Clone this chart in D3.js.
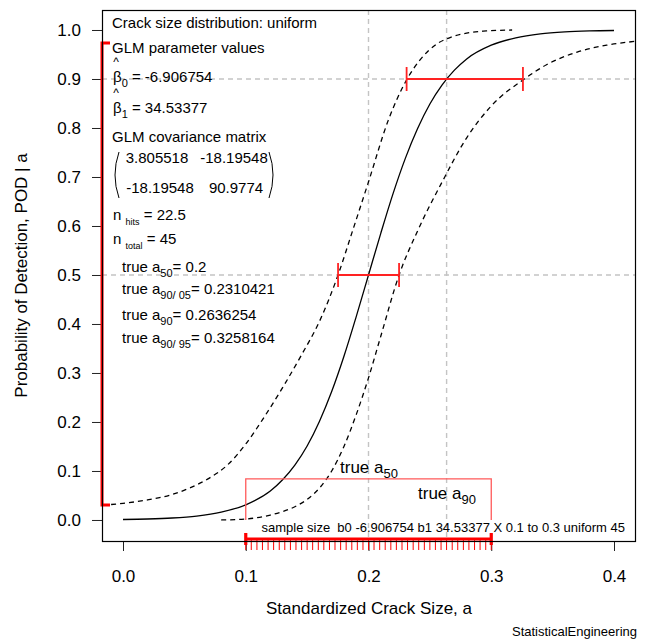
<!DOCTYPE html>
<html>
<head>
<meta charset="utf-8">
<script src="https://cdn.jsdelivr.net/npm/d3@7"></script>
<style>
body { margin: 0; background: #fff; }
text { font-family: "Liberation Sans", Arial, Helvetica, sans-serif; fill: #000; }
</style>
</head>
<body>
<div id="chart"></div>
<script>
// fitted POD curve (solid)
var podSize = [0, 0.02, 0.04, 0.06, 0.08, 0.10, 0.12, 0.13, 0.14, 0.15, 0.16, 0.17, 0.18, 0.19, 0.20,
    0.21, 0.22, 0.23, 0.24, 0.25, 0.26, 0.27, 0.28, 0.30, 0.32, 0.34, 0.36, 0.38, 0.40];
var podValue = [0.001, 0.002, 0.004, 0.008, 0.016, 0.031, 0.059, 0.082, 0.112, 0.151, 0.201, 0.262, 0.334, 0.415, 0.50,
    0.585, 0.666, 0.738, 0.799, 0.849, 0.888, 0.918, 0.941, 0.969, 0.984, 0.992, 0.996, 0.998, 0.999];

// upper confidence bound (left dashed)
var upperSize = [-0.017, 0.00, 0.02, 0.04, 0.055, 0.07, 0.085, 0.10, 0.115, 0.13, 0.145, 0.16, 0.1752,
    0.187, 0.20, 0.216, 0.231, 0.242, 0.256, 0.268, 0.283, 0.296, 0.317];
var upperValue = [0.030, 0.034, 0.041, 0.052, 0.066, 0.085, 0.112, 0.155, 0.21, 0.27, 0.335, 0.405, 0.50,
    0.59, 0.69, 0.815, 0.898, 0.939, 0.972, 0.986, 0.995, 0.998, 1.0];

// lower confidence bound (right dashed)
var lowerSize = [0.08, 0.10, 0.12, 0.13, 0.14, 0.15, 0.16, 0.17, 0.18, 0.19, 0.20, 0.21, 0.2249,
    0.24, 0.26, 0.28, 0.30, 0.327, 0.345, 0.37, 0.394, 0.418];
var lowerValue = [0.000, 0.002, 0.010, 0.017, 0.027, 0.042, 0.065, 0.100, 0.150, 0.215, 0.290, 0.375, 0.50,
    0.59, 0.69, 0.78, 0.845, 0.90, 0.929, 0.955, 0.969, 0.977];

// 45 crack sizes, uniform 0.1 to 0.3
var crackSizes = [0.1000, 0.1045, 0.1091, 0.1136, 0.1182, 0.1227, 0.1273, 0.1318, 0.1364, 0.1409,
    0.1455, 0.1500, 0.1545, 0.1591, 0.1636, 0.1682, 0.1727, 0.1773, 0.1818, 0.1864, 0.1909, 0.1955,
    0.2000, 0.2045, 0.2091, 0.2136, 0.2182, 0.2227, 0.2273, 0.2318, 0.2364, 0.2409, 0.2455, 0.2500,
    0.2545, 0.2591, 0.2636, 0.2682, 0.2727, 0.2773, 0.2818, 0.2864, 0.2909, 0.2955, 0.3000];

var refPod = [0.5, 0.9];
var refSize = [0.2, 0.2636254];
var ci50 = [0.1752, 0.2249];
var ci90 = [0.2310421, 0.3258164];
var podRange = [0.0306, 0.9735];
var sampleBox = [0.1, 0.3, 0.084];

var xTicks = [0, 0.1, 0.2, 0.3, 0.4];
var yTicks = [0, 0.1, 0.2, 0.3, 0.4, 0.5, 0.6, 0.7, 0.8, 0.9, 1.0];

var svgWidth = 646;
var svgHeight = 639;

var margin = { top: 10, right: 10, bottom: 98, left: 102 };
var width = svgWidth - margin.left - margin.right;
var height = svgHeight - margin.top - margin.bottom;

var svg = d3.select("#chart")
    .append("svg")
    .attr("width", svgWidth)
    .attr("height", svgHeight);

var chartGroup = svg.append("g")
    .attr("transform", `translate(${margin.left}, ${margin.top})`);

var xScale = d3.scaleLinear().domain([-0.01711, 0.41792]).range([0, width]);
var yScale = d3.scaleLinear().domain([-0.0429, 1.0408]).range([height, 0]);

svg.append("defs").append("clipPath").attr("id", "plotclip")
    .append("rect").attr("width", width).attr("height", height);

// axes
var xAxis = d3.axisBottom(xScale).tickValues(xTicks).tickFormat(d3.format(".1f"))
    .tickSize(10).tickPadding(19);
var yAxis = d3.axisLeft(yScale).tickValues(yTicks).tickFormat(d3.format(".1f"))
    .tickSize(10).tickPadding(11);

var gx = chartGroup.append("g").attr("transform", `translate(0, ${height})`).call(xAxis);
var gy = chartGroup.append("g").call(yAxis);
[gx, gy].forEach(function(g) {
    g.select(".domain").remove();
    g.selectAll("text").style("font-size", "17px")
        .style("font-family", "'Liberation Sans', Arial, sans-serif");
    g.selectAll("line").attr("stroke", "#222");
});

// reference lines
var plot = chartGroup.append("g").attr("clip-path", "url(#plotclip)");
plot.selectAll(".hRef").data(refPod).enter().append("line")
    .attr("x1", 0).attr("x2", width)
    .attr("y1", d => yScale(d)).attr("y2", d => yScale(d))
    .attr("stroke", "#c4c4c4").attr("stroke-width", 1.4).attr("stroke-dasharray", "5,4");
plot.selectAll(".vRef").data(refSize).enter().append("line")
    .attr("y1", 0).attr("y2", height)
    .attr("x1", d => xScale(d)).attr("x2", d => xScale(d))
    .attr("stroke", "#c4c4c4").attr("stroke-width", 1.4).attr("stroke-dasharray", "5,4");

// curves
var line = d3.line().x(d => xScale(d[0])).y(d => yScale(d[1]));
plot.append("path").datum(d3.zip(podSize, podValue))
    .attr("d", line.curve(d3.curveMonotoneX))
    .attr("fill", "none").attr("stroke", "#000").attr("stroke-width", 1.3);
plot.append("path").datum(d3.zip(upperSize, upperValue))
    .attr("d", line.curve(d3.curveMonotoneX))
    .attr("fill", "none").attr("stroke", "#000").attr("stroke-width", 1.3).attr("stroke-dasharray", "5,4");
plot.append("path").datum(d3.zip(lowerSize, lowerValue))
    .attr("d", line.curve(d3.curveMonotoneX))
    .attr("fill", "none").attr("stroke", "#000").attr("stroke-width", 1.3).attr("stroke-dasharray", "5,4");

// confidence intervals at POD 0.5 and 0.9
[[ci50, refPod[0]], [ci90, refPod[1]]].forEach(function(c) {
    var g = chartGroup.append("g").attr("stroke", "#f22").attr("stroke-width", 1.8);
    g.append("line").attr("x1", xScale(c[0][0])).attr("x2", xScale(c[0][1]))
        .attr("y1", yScale(c[1])).attr("y2", yScale(c[1]));
    c[0].forEach(function(a) {
        g.append("line").attr("x1", xScale(a)).attr("x2", xScale(a))
            .attr("y1", yScale(c[1]) - 12).attr("y2", yScale(c[1]) + 12);
    });
});

// sample size box
chartGroup.append("path")
    .attr("d", `M${xScale(sampleBox[0])},${yScale(0)} V${yScale(sampleBox[2])} H${xScale(sampleBox[1])} V${yScale(0)}`)
    .attr("fill", "none").attr("stroke", "#ff5a5a").attr("stroke-width", 1.3);

// POD range bracket on the left
var bx = 0;
chartGroup.append("path")
    .attr("d", `M${bx + 8},${yScale(podRange[1])} H${bx} V${yScale(podRange[0])} H${bx + 8}`)
    .attr("fill", "none").attr("stroke", "#f00").attr("stroke-width", 3);

// rug of crack sizes
chartGroup.selectAll(".rug").data(crackSizes).enter().append("line")
    .attr("x1", d => xScale(d)).attr("x2", d => xScale(d))
    .attr("y1", height - 2).attr("y2", height + 9)
    .attr("stroke", "#f00").attr("stroke-width", 1);
chartGroup.append("path")
    .attr("d", `M${xScale(sampleBox[0])},${height - 8} V${height + 4} M${xScale(sampleBox[0])},${height - 2} H${xScale(sampleBox[1])} M${xScale(sampleBox[1])},${height - 8} V${height + 4}`)
    .attr("fill", "none").attr("stroke", "#f00").attr("stroke-width", 3.2);

// frame
chartGroup.append("rect").attr("x", 0.5).attr("y", 0.5)
    .attr("width", width - 1).attr("height", height)
    .attr("fill", "none").attr("stroke", "#000").attr("stroke-width", 1.2);

// text helper: parts are [string, "sub" | undefined]
function mathText(x, y, parts, size, anchor) {
    var t = svg.append("text").attr("x", x).attr("y", y)
        .style("font-size", size + "px").style("white-space", "pre")
        .attr("text-anchor", anchor || "start");
    var shift = 0;
    parts.forEach(function(p) {
        var down = p[1] === "sub" ? Math.round(size * 0.3) : 0;
        t.append("tspan").text(p[0])
            .attr("dy", down - shift)
            .style("font-size", p[1] === "sub" ? (p[2] || Math.round(size * 0.72)) + "px" : null);
        shift = down;
    });
    return t;
}

var fs = 15;
mathText(112, 28, [["Crack size distribution: uniform"]], fs);
mathText(112, 53, [["GLM parameter values"]], fs);
svg.append("text").attr("x", 116).attr("y", 66).attr("text-anchor", "middle").style("font-size", "12px").text("^");
mathText(113, 82, [["\u03b2"], ["0", "sub"], [" = -6.906754"]], fs);
svg.append("text").attr("x", 116).attr("y", 97).attr("text-anchor", "middle").style("font-size", "12px").text("^");
mathText(113, 113, [["\u03b2"], ["1", "sub"], [" = 34.53377"]], fs);
mathText(112, 142, [["GLM covariance matrix"]], fs);

// covariance matrix
mathText(157, 163, [["3.805518"]], fs, "middle");
mathText(234, 163, [["-18.19548"]], fs, "middle");
mathText(160, 193, [["-18.19548"]], fs, "middle");
mathText(236, 193, [["90.9774"]], fs, "middle");
svg.append("path").attr("d", "M119,152 Q111,175 119,198 M269,152 Q277,175 269,198")
    .attr("fill", "none").attr("stroke", "#000").attr("stroke-width", 1);

mathText(113, 220, [["n "], ["hits", "sub", 9], [" = 22.5"]], fs);
mathText(113, 244, [["n "], ["total", "sub", 9], [" = 45"]], fs);
mathText(122, 272, [["true a"], ["50", "sub"], ["= 0.2"]], fs);
mathText(122, 294, [["true a"], ["90/ 05", "sub"], ["= 0.2310421"]], fs);
mathText(122, 320, [["true a"], ["90", "sub"], ["= 0.2636254"]], fs);
mathText(122, 343, [["true a"], ["90/ 95", "sub"], ["= 0.3258164"]], fs);

// labels near the sample box
mathText(340, 473, [["true a"], ["50", "sub", 13]], 17);
mathText(418, 499, [["true a"], ["90", "sub", 13]], 17);
mathText(625, 532, [["sample size  b0 -6.906754 b1 34.53377 X 0.1 to 0.3 uniform 45"]], 13, "end");

// axis titles
svg.append("text")
    .attr("transform", `translate(${margin.left + width / 2}, 614)`)
    .attr("text-anchor", "middle").style("font-size", "17px")
    .text("Standardized Crack Size, a");
svg.append("text")
    .attr("transform", `translate(27, ${margin.top + height / 2}) rotate(-90)`)
    .attr("text-anchor", "middle").style("font-size", "17px")
    .text("Probability of Detection, POD | a");
svg.append("text").attr("x", 637).attr("y", 636).attr("text-anchor", "end")
    .style("font-size", "13px").text("StatisticalEngineering");
</script>
</body>
</html>
